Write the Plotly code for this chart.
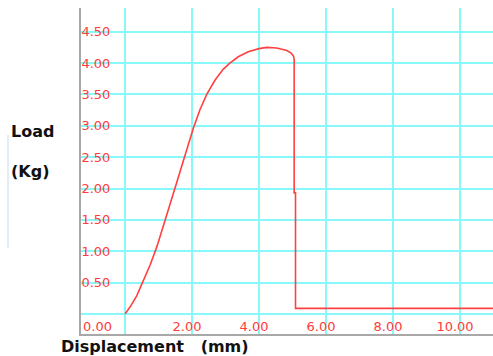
import plotly.graph_objects as go

# Data
displacement = [0, 0.15, 0.35, 0.55, 0.75, 0.95, 1.14, 1.34, 1.54, 1.74, 1.94,
                2.04, 2.24, 2.44, 2.69, 2.93, 3.13, 3.38, 3.68, 4.0, 4.23,
                4.53, 4.83, 4.96, 5.03, 5.05, 5.05, 5.09, 5.09, 11.0]
load = [0, 0.11, 0.29, 0.53, 0.78, 1.07, 1.39, 1.74, 2.09, 2.44, 2.80,
        2.96, 3.26, 3.50, 3.73, 3.90, 4.00, 4.10, 4.18, 4.23, 4.25,
        4.24, 4.20, 4.16, 4.11, 4.06, 1.93, 1.93, 0.09, 0.09]

x_ticks = [0, 2, 4, 6, 8, 10]
x_ticktext = ["", "2.00", "4.00", "6.00", "8.00", "10.00"]
y_ticks = [0, 0.5, 1.0, 1.5, 2.0, 2.5, 3.0, 3.5, 4.0, 4.5]
y_ticktext = ["", "0.50", "1.00", "1.50", "2.00", "2.50", "3.00", "3.50", "4.00", "4.50"]

RED = "#ff3b3b"
GRID = "#88f8f8"
TICKFONT = dict(family="DejaVu Sans", size=13, color=RED)

fig = go.Figure()
fig.add_trace(go.Scatter(x=displacement, y=load, mode="lines",
                         line=dict(color="#ff4040", width=1.6),
                         hoverinfo="skip", showlegend=False))

fig.update_layout(
    width=493, height=356,
    margin=dict(l=81, r=0, t=8, b=22),
    paper_bgcolor="white", plot_bgcolor="white",
    xaxis=dict(range=[-1.313, 10.985], tickvals=x_ticks, ticktext=x_ticktext,
               showgrid=True, gridcolor=GRID, gridwidth=1.6, zeroline=False,
               showline=True, linecolor="#a8a8a8", linewidth=2,
               ticks="", ticklabelposition="inside", ticklabelshift=-5,
               tickfont=TICKFONT, fixedrange=True),
    yaxis=dict(range=[-0.319, 4.878], tickvals=y_ticks, ticktext=y_ticktext,
               showgrid=True, gridcolor=GRID, gridwidth=1.6, zeroline=False,
               showline=True, linecolor="#a8a8a8", linewidth=2,
               ticks="", ticklabelposition="inside",
               tickfont=TICKFONT, fixedrange=True),
)

TITLEFONT = dict(family="DejaVu Sans", size=16, color="#111111", weight="bold")
fig.add_annotation(text="0.00", xref="paper", yref="y", x=0, y=-0.205,
                   xanchor="left", yanchor="middle", showarrow=False,
                   xshift=0, font=TICKFONT)
fig.add_annotation(text="Load", xref="paper", yref="paper",
                   x=-72 / 412, y=(334 - 131) / 326, xanchor="left", yanchor="middle",
                   showarrow=False, font=TITLEFONT)
fig.add_annotation(text="(Kg)", xref="paper", yref="paper",
                   x=-72 / 412, y=(334 - 171) / 326, xanchor="left", yanchor="middle",
                   showarrow=False, font=TITLEFONT)
fig.add_annotation(text="Displacement\u00a0\u00a0\u00a0(mm)", xref="paper", yref="paper",
                   x=-22 / 412, y=(334 - 346) / 326, xanchor="left", yanchor="middle",
                   showarrow=False, font=TITLEFONT)
fig.add_shape(type="line", xref="paper", yref="paper",
              x0=-73 / 412, x1=-73 / 412, y0=(334 - 135) / 326, y1=(334 - 248) / 326,
              line=dict(color="#dbe6f3", width=1.5))

fig.write_html("out.html", config={"displayModeBar": False})
